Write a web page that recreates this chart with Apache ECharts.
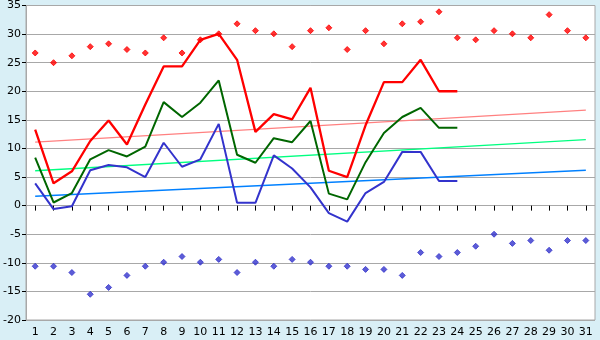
<!DOCTYPE html>
<html>
<head>
<meta charset="utf-8">
<script src="https://cdn.jsdelivr.net/npm/echarts@6/dist/echarts.min.js"></script>
<style>
  html, body { margin: 0; padding: 0; background: #d9eff6; }
  #chart { width: 600px; height: 340px; }
</style>
</head>
<body>
<div id="chart"></div>
<script>
// Days of the month
const days = Array.from({ length: 31 }, (_, i) => String(i + 1));

// Daily maximum, mean and minimum temperatures (first 24 days)
const dailyMax = [13.3, 3.9, 6.0, 11.3, 14.9, 10.7, 17.7, 24.35, 24.35, 29.0, 30.05, 25.5,
  12.9, 16.0, 15.1, 20.6, 6.1, 5.0, 14.05, 21.6, 21.6, 25.5, 20.0, 20.0];
const dailyMean = [8.4, 0.55, 2.2, 8.1, 9.7, 8.6, 10.3, 18.1, 15.5, 18.0, 21.9, 8.9,
  7.5, 11.8, 11.1, 14.8, 2.1, 1.1, 7.6, 12.7, 15.5, 17.1, 13.6, 13.6];
const dailyMin = [3.9, -0.6, -0.1, 6.2, 7.1, 6.7, 5.0, 11.0, 6.8, 8.1, 14.3, 0.5,
  0.5, 8.8, 6.5, 3.2, -1.3, -2.8, 2.2, 4.15, 9.4, 9.4, 4.3, 4.3];

// Record highs and lows per day
const recordHigh = [26.7, 25.0, 26.2, 27.8, 28.3, 27.3, 26.7, 29.35, 26.7, 29.0, 30.05, 31.8,
  30.6, 30.05, 27.8, 30.6, 31.1, 27.3, 30.6, 28.3, 31.8, 32.15, 33.9, 29.35,
  29.0, 30.6, 30.05, 29.35, 33.4, 30.6, 29.35];
const recordLow = [-10.6, -10.6, -11.7, -15.5, -14.3, -12.2, -10.6, -9.9, -8.9, -9.9, -9.4, -11.7,
  -9.9, -10.6, -9.4, -9.9, -10.6, -10.6, -11.15, -11.15, -12.2, -8.2, -8.9, -8.2,
  -7.1, -5.0, -6.6, -6.1, -7.8, -6.1, -6.1];

// Normal (climatological) max / mean / min: values at the first and last day
const normalMax = [11.1, 16.7];
const normalMean = [6.1, 11.55];
const normalMin = [1.65, 6.2];

// Y-axis range
const yMin = -20, yMax = 35, yStep = 5;

function endpoints(pair) {
  return days.map((_, i) => (i === 0 ? pair[0] : i === days.length - 1 ? pair[1] : null));
}

const chart = echarts.init(document.getElementById('chart'), null, { renderer: 'canvas' });

const labelFont = { fontFamily: 'DejaVu Sans', fontSize: 11, color: '#000' };

function trend(name, pair, color) {
  return {
    name, type: 'line', data: endpoints(pair), connectNulls: true,
    symbol: 'none', silent: true, z: 1,
    lineStyle: { color, width: 1.4 }
  };
}
function daily(name, data, color, width) {
  return {
    name, type: 'line', data, symbol: 'none', z: 3,
    lineStyle: { color, width }
  };
}
function record(name, data, color) {
  return {
    name, type: 'scatter', data, symbol: 'diamond', symbolSize: 6, z: 4,
    itemStyle: { color, borderColor: color, borderWidth: 1 }
  };
}

chart.setOption({
  backgroundColor: '#d9eff6',
  animation: false,
  grid: {
    left: 26, right: 5, top: 5, bottom: 20,
    show: true, backgroundColor: '#fff', borderColor: '#a8a8a8', borderWidth: 1
  },
  xAxis: {
    type: 'category', data: days, boundaryGap: true,
    axisLine: { show: false },
    axisTick: { show: true, alignWithLabel: true, length: 5, lineStyle: { color: '#000' } },
    axisLabel: { ...labelFont, margin: 7, interval: 0 },
    splitLine: { show: false }
  },
  yAxis: {
    type: 'value', min: yMin, max: yMax, interval: yStep,
    axisLine: { show: true, lineStyle: { color: '#a8a8a8' } },
    axisTick: { show: true, length: 4, lineStyle: { color: '#000' } },
    axisLabel: { ...labelFont, margin: 5 },
    splitLine: { lineStyle: { color: '#a8a8a8', width: 1 } }
  },
  series: [
    trend('Normal max', normalMax, '#ff8080'),
    trend('Normal mean', normalMean, '#00ff80'),
    trend('Normal min', normalMin, '#0080ff'),
    daily('Max', dailyMax, '#ff0000', 2.3),
    daily('Mean', dailyMean, '#006600', 2),
    daily('Min', dailyMin, '#3333cc', 2),
    record('Record high', recordHigh, '#ff0000'),
    record('Record low', recordLow, '#3333cc')
  ]
});
</script>
</body>
</html>
